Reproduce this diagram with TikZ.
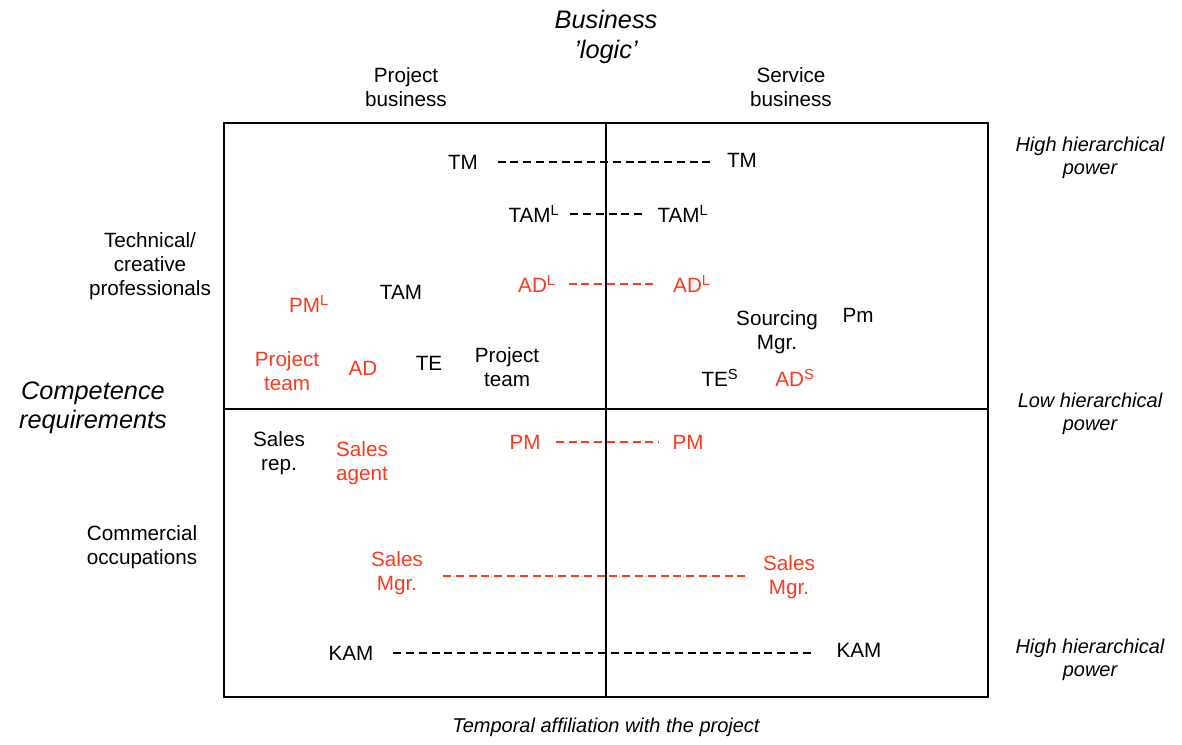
\documentclass[tikz,border=0pt]{standalone}
\usepackage{fontspec}
\setmainfont{Liberation Sans}
\definecolor{myred}{HTML}{FA3A1E}
\tikzset{
  lbl/.style={inner sep=0pt, align=center, font=\fontsize{15.5}{18}\selectfont},
  rlbl/.style={lbl, text=myred},
  big/.style={inner sep=0pt, align=center, font=\fontsize{19}{22}\selectfont\itshape},
  side/.style={inner sep=0pt, align=center, font=\fontsize{15}{17.5}\selectfont\itshape},
  dl/.style={line width=1.5pt, dash pattern=on 6pt off 3.6pt},
  rdl/.style={dl, draw=myred},
  frame/.style={line width=1.5pt}
}
\newcommand{\sups}[1]{\textsuperscript{\fontsize{11}{11}\selectfont #1}}
\begin{document}
\begin{tikzpicture}[x=0.75pt,y=-0.75pt]
\useasboundingbox (0,0) rectangle (1182,744);
% frame
\coordinate (tl) at (224,123);
\coordinate (br) at (988,697);
\coordinate (mt) at (606,123);
\coordinate (mb) at (606,697);
\coordinate (ml) at (224,409);
\coordinate (mr) at (988,409);
\draw[frame] (tl) rectangle (br);
\draw[frame] (mt) -- (mb);
\draw[frame] (ml) -- (mr);
% outer labels
\node[big] (bl) at (606,37) {Business\\'logic'};
\node[lbl] (pb) at (406,87) {Project\\business};
\node[lbl] (sb) at (791,87) {Service\\business};
\node[side] (hh1) at (1090,158) {High hierarchical\\power};
\node[side] (lh) at (1090,414) {Low hierarchical\\power};
\node[side] (hh2) at (1090,660) {High hierarchical\\power};
\node[lbl] (tcp) at (150,266) {Technical/\\creative\\professionals};
\node[big] (cr) at (93,408) {Competence\\requirements};
\node[lbl] (co) at (142,547) {Commercial\\occupations};
\node[side] (ta) at (606,727) {Temporal affiliation with the project};
% upper quadrants
\node[lbl] (tmL) at (463,162) {TM};
\node[lbl] (tmR) at (742,160) {TM};
\draw[dl, shorten <=14.6pt, shorten >=9.4pt] (tmL.east) -- (tmL.east -| tmR.west);
\node[lbl] (tamlL) at (534,214) {TAM\sups{L}};
\node[lbl] (tamlR) at (683,214) {TAM\sups{L}};
\draw[dl, shorten <=7.9pt, shorten >=8.6pt] (tamlL) -- (tamlR);
\node[rlbl] (adlL) at (537,284) {AD\sups{L}};
\node[rlbl] (adlR) at (692,284) {AD\sups{L}};
\draw[rdl, shorten <=9.4pt, shorten >=12.4pt] (adlL) -- (adlR);
\node[rlbl] (pml) at (309,304) {PM\sups{L}};
\node[lbl] (tam) at (401,292) {TAM};
\node[rlbl] (ptr) at (287,371) {Project\\team};
\node[rlbl] (ad) at (363,368) {AD};
\node[lbl] (te) at (429,363) {TE};
\node[lbl] (ptb) at (507,367) {Project\\team};
\node[lbl] (sm) at (777,332) {Sourcing\\Mgr.};
\node[lbl] (pm2) at (858,315) {Pm};
\node[lbl] (tes) at (720,378) {TE\sups{S}};
\node[rlbl] (ads) at (795,378) {AD\sups{S}};
% lower quadrants
\node[lbl] (sr) at (279,453) {Sales\\rep.};
\node[rlbl] (sa) at (362,463) {Sales\\agent};
\node[rlbl] (pmL) at (525,442) {PM};
\node[rlbl] (pmR) at (688,442) {PM};
\draw[rdl, shorten <=11.2pt, shorten >=9.7pt] (pmL) -- (pmR);
\node[rlbl] (smL) at (397,573) {Sales\\Mgr.};
\node[rlbl] (smR) at (789,577) {Sales\\Mgr.};
\coordinate (smLe) at (443,576);
\coordinate (smRe) at (745,576);
\draw[rdl] (smLe) -- (smRe);
\node[lbl] (kamL) at (351,653) {KAM};
\node[lbl] (kamR) at (859,650) {KAM};
\draw[dl, shorten <=14.6pt, shorten >=19pt] (kamL.east) -- (kamL.east -| kamR.west);
\end{tikzpicture}
\end{document}
